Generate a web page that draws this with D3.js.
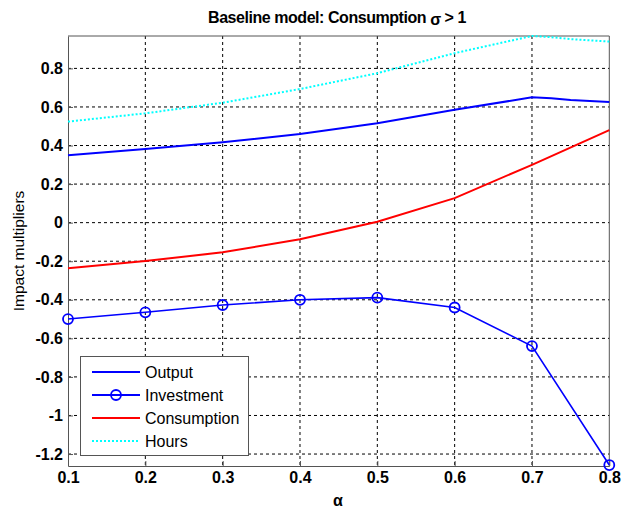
<!DOCTYPE html>
<html>
<head>
<meta charset="utf-8">
<script src="https://cdn.jsdelivr.net/npm/d3@7"></script>
<style>
  body { margin: 0; background: #fff; }
  text { font-family: "Liberation Sans", Arial, sans-serif; }
</style>
</head>
<body>
<div id="main"></div>
<script>
/// data ///
var alphas = [0.1, 0.2, 0.3, 0.4, 0.5, 0.6, 0.7, 0.8];
var outputX = [0.1, 0.2, 0.3, 0.4, 0.5, 0.6, 0.7, 0.725, 0.75, 0.8];
var output = [0.349, 0.382, 0.417, 0.46, 0.516, 0.585, 0.65, 0.645, 0.636, 0.626];
var investment = [-0.50, -0.465, -0.427, -0.40, -0.389, -0.44, -0.64, -1.257];
var consumption = [-0.237, -0.199, -0.154, -0.086, 0.005, 0.127, 0.30, 0.48];
var hoursX = [0.1, 0.2, 0.3, 0.4, 0.5, 0.6, 0.7, 0.725, 0.75, 0.8];
var hours = [0.524, 0.567, 0.622, 0.693, 0.775, 0.879, 0.968, 0.962, 0.952, 0.939];
var yTicks = [-1.2, -1, -0.8, -0.6, -0.4, -0.2, 0, 0.2, 0.4, 0.6, 0.8];
var legendNames = ['Output', 'Investment', 'Consumption', 'Hours'];

const w = 622, h = 508;
const mLeft = 68, mRight = 609.3, mTop = 36, mBottom = 466;

const svg = d3.select('#main')
            .append('svg')
            .attr('width', w)
            .attr('height', h);

const x = d3.scaleLinear().domain([0.1, 0.8]).range([mLeft, mRight]);
const y = d3.scaleLinear().domain([-1.262, 0.968]).range([mBottom, mTop]);

// grid (dashed)
svg.append('g')
    .selectAll('line')
    .data(alphas.slice(1, -1))
    .enter()
    .append('line')
    .attr('x1', d => x(d)).attr('x2', d => x(d))
    .attr('y1', mTop).attr('y2', mBottom)
    .attr('stroke', '#000').attr('stroke-width', 1)
    .attr('stroke-dasharray', '3,3');

svg.append('g')
    .selectAll('line')
    .data(yTicks)
    .enter()
    .append('line')
    .attr('x1', mLeft).attr('x2', mRight)
    .attr('y1', d => y(d)).attr('y2', d => y(d))
    .attr('stroke', '#000').attr('stroke-width', 1)
    .attr('stroke-dasharray', '3,3');

// axes
const xAxis = svg.append('g')
    .attr('transform', `translate(0,${mBottom})`)
    .call(d3.axisBottom(x).tickValues(alphas).tickSizeInner(-5).tickSizeOuter(0).tickPadding(6)
          .tickFormat(d3.format('.1f')));
const yAxis = svg.append('g')
    .attr('transform', `translate(${mLeft},0)`)
    .call(d3.axisLeft(y).tickValues(yTicks).tickSizeInner(-5).tickSizeOuter(0).tickPadding(5)
          .tickFormat(d => String(Math.round(d * 10) / 10)));

[xAxis, yAxis].forEach(a => {
    a.select('.domain').attr('stroke', '#555');
    a.selectAll('.tick line').attr('stroke', '#555');
    a.selectAll('.tick text')
        .style('font-family', '"Liberation Sans", Arial, sans-serif')
        .style('font-weight', 'bold')
        .style('font-size', '16px')
        .attr('fill', '#000');
});

// box top/right
svg.append('line').attr('x1', mLeft).attr('x2', mRight).attr('y1', mTop).attr('y2', mTop).attr('stroke', '#555');
svg.append('line').attr('x1', mRight).attr('x2', mRight).attr('y1', mTop).attr('y2', mBottom).attr('stroke', '#555');

// lines
const line = d3.line().x(d => x(d[0])).y(d => y(d[1]));

svg.append('path')
    .datum(hoursX.map((a, i) => [a, hours[i]]))
    .attr('d', line).attr('fill', 'none')
    .attr('stroke', '#00ffff').attr('stroke-width', 2).attr('stroke-dasharray', '2,2');

svg.append('path')
    .datum(outputX.map((a, i) => [a, output[i]]))
    .attr('d', line).attr('fill', 'none')
    .attr('stroke', '#0000ff').attr('stroke-width', 2);

svg.append('path')
    .datum(alphas.map((a, i) => [a, consumption[i]]))
    .attr('d', line).attr('fill', 'none')
    .attr('stroke', '#ff0000').attr('stroke-width', 2);

svg.append('path')
    .datum(alphas.map((a, i) => [a, investment[i]]))
    .attr('d', line).attr('fill', 'none')
    .attr('stroke', '#0000ff').attr('stroke-width', 1.6);

svg.append('g')
    .selectAll('circle')
    .data(alphas.map((a, i) => [a, investment[i]]))
    .enter()
    .append('circle')
    .attr('cx', d => x(d[0])).attr('cy', d => y(d[1]))
    .attr('r', 5)
    .attr('fill', 'none').attr('stroke', '#0000ff').attr('stroke-width', 1.8);

// title and labels
const title = svg.append('text')
    .attr('x', 337).attr('y', 23)
    .attr('text-anchor', 'middle')
    .style('font-weight', 'bold').style('font-size', '16px')
    .style('letter-spacing', '-0.45px');
title.append('tspan').text('Baseline model: Consumption ');
title.append('tspan').attr('dy', 2).text('σ');
title.append('tspan').attr('dy', -2).text(' > 1');

svg.append('text')
    .attr('x', 338).attr('y', 506)
    .attr('text-anchor', 'middle')
    .style('font-weight', 'bold').style('font-size', '16px')
    .text('α');

svg.append('text')
    .attr('transform', 'translate(24,251) rotate(-90)')
    .attr('text-anchor', 'middle')
    .style('font-size', '15.5px')
    .text('Impact multipliers');

/// Legend ///
const legend = svg.append('g');
legend.append('rect')
    .attr('x', 80.5).attr('y', 356.5).attr('width', 168).attr('height', 99)
    .attr('fill', '#fff').attr('stroke', '#555');

const legendStyle = [
    { color: '#0000ff', dash: null, marker: false },
    { color: '#0000ff', dash: null, marker: true },
    { color: '#ff0000', dash: null, marker: false },
    { color: '#00ffff', dash: '2,2', marker: false }
];

const items = legend.selectAll('g.item')
    .data(legendNames)
    .enter()
    .append('g')
    .attr('class', 'item')
    .attr('transform', (d, i) => `translate(0,${372 + i * 23})`);

items.append('line')
    .attr('x1', 92).attr('x2', 140).attr('y1', 0).attr('y2', 0)
    .attr('stroke', (d, i) => legendStyle[i].color)
    .attr('stroke-width', 2)
    .attr('stroke-dasharray', (d, i) => legendStyle[i].dash);

items.filter((d, i) => legendStyle[i].marker)
    .append('circle')
    .attr('cx', 116).attr('cy', 0).attr('r', 5)
    .attr('fill', 'none').attr('stroke', '#0000ff').attr('stroke-width', 1.8);

items.append('text')
    .attr('x', 145).attr('y', 6)
    .style('font-size', '16px')
    .text(d => d);
</script>
</body>
</html>
